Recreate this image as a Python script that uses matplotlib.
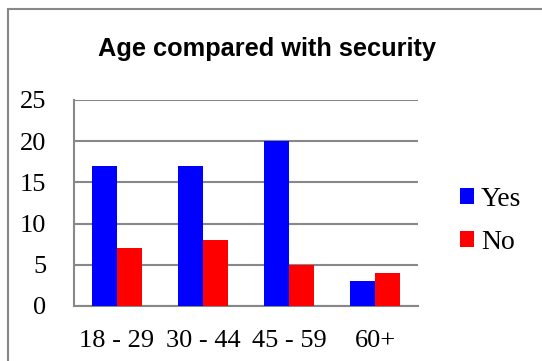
import matplotlib.pyplot as plt
import numpy as np
from matplotlib.patches import Rectangle

age_groups = ['18 - 29', '30 - 44', '45 - 59', '60+']
yes_counts = [17, 17, 20, 3]
no_counts = [7, 8, 5, 4]

W, H = 542, 361
fig = plt.figure(figsize=(W / 100, H / 100), dpi=100)
ax = fig.add_axes([74 / W, 1 - 306 / H, 344 / W, 206 / H])

x = np.arange(len(age_groups))
bw = 0.285
ax.bar(x - bw / 2, yes_counts, bw, color='#0000ff', label='Yes', zorder=3)
ax.bar(x + bw / 2, no_counts, bw, color='#ff0000', label='No', zorder=3)

ax.set_xlim(-0.5, len(age_groups) - 0.5)
ax.set_ylim(0, 25)
ax.set_yticks(range(0, 26, 5))
ax.set_xticks(x)
ax.set_xticklabels(age_groups)
ax.grid(axis='y', color='#888888', linewidth=1.5, zorder=0)
ax.tick_params(length=0, labelsize=19)
ax.tick_params(axis='y', pad=20)
ax.tick_params(axis='x', pad=17)
for lbl in ax.get_xticklabels() + ax.get_yticklabels():
    lbl.set_fontfamily('Liberation Serif')
for side in ['top', 'right']:
    ax.spines[side].set_visible(False)
for side in ['left', 'bottom']:
    ax.spines[side].set_color('#888888')
    ax.spines[side].set_linewidth(1.5)

fig.text(267 / W, 1 - 49 / H, 'Age compared with security', ha='center', va='center',
         fontsize=18.3, fontweight='bold', family='Liberation Sans')

leg = fig.legend(loc='center left', bbox_to_anchor=(460 / W, 1 - 221 / H), frameon=False,
                 prop={'family': 'Liberation Serif', 'size': 20}, handlelength=0.5,
                 handleheight=0.5, handletextpad=0.25, labelspacing=0.65,
                 borderpad=0, borderaxespad=0)

# outer chart frame
fig.patches.append(Rectangle((8 / W, -0.1), 1.2, 1.1 - 9 / H, transform=fig.transFigure,
                             fill=False, edgecolor='#888888', linewidth=1.5))

fig.savefig('out.png', dpi=100)
